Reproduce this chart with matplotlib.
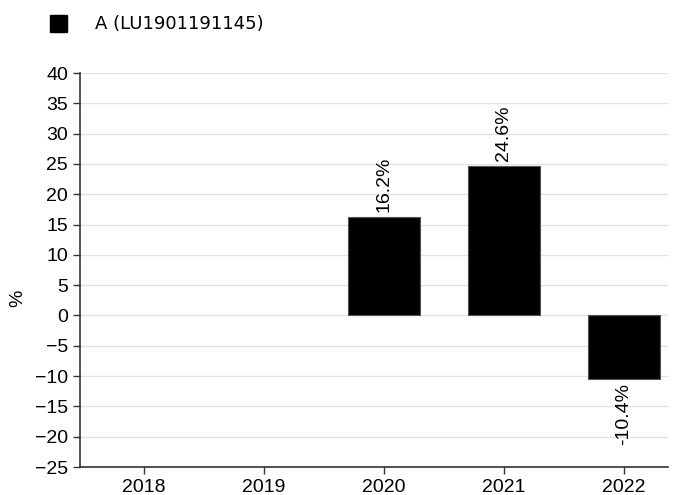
import matplotlib.pyplot as plt
from matplotlib.patches import Rectangle

years = ["2018", "2019", "2020", "2021", "2022"]
returns = [None, None, 16.2, 24.6, -10.4]
series_name = "A (LU1901191145)"

plt.rcParams["font.family"] = ["Liberation Sans", "DejaVu Sans"]

fig = plt.figure(figsize=(6.83, 4.95), dpi=100)
ax = fig.add_axes([80 / 683, 28 / 495, 588 / 683, 394 / 495])

xs = list(range(len(years)))
for x, v in zip(xs, returns):
    if v is None:
        continue
    ax.bar(x, v, width=0.6, color="black", edgecolor="#555555", linewidth=0.8, zorder=3)
    label = f"{v:.1f}%"
    if v >= 0:
        ax.text(x, v + 0.8, label, rotation=90, ha="center", va="bottom", fontsize=14)
    else:
        ax.text(x, v - 0.8, label, rotation=90, ha="center", va="top", fontsize=14)

ax.set_xlim(-0.533, 4.367)
ax.set_ylim(-25, 40)
ax.set_yticks(range(-25, 41, 5))
ax.set_xticks(xs)
ax.set_xticklabels(years)
ax.tick_params(axis="both", labelsize=14, color="#333333", length=5, width=1)
ax.grid(axis="y", color="#e3e3e3", linewidth=1, zorder=0)
ax.set_axisbelow(True)
for s in ["top", "right"]:
    ax.spines[s].set_visible(False)
for s in ["left", "bottom"]:
    ax.spines[s].set_color("#333333")
    ax.spines[s].set_linewidth(1.2)

fig.text(18 / 683, 1 - 298 / 495, "%", fontsize=14, rotation=90, ha="center", va="center")

fig.patches.append(Rectangle((50 / 683, 1 - 32 / 495), 17 / 683, 17 / 495,
                             transform=fig.transFigure, color="black"))
fig.text(95 / 683, 1 - 24 / 495, series_name, fontsize=13, va="center",
         family=["DejaVu Sans"])

fig.savefig("out.png", dpi=100)
